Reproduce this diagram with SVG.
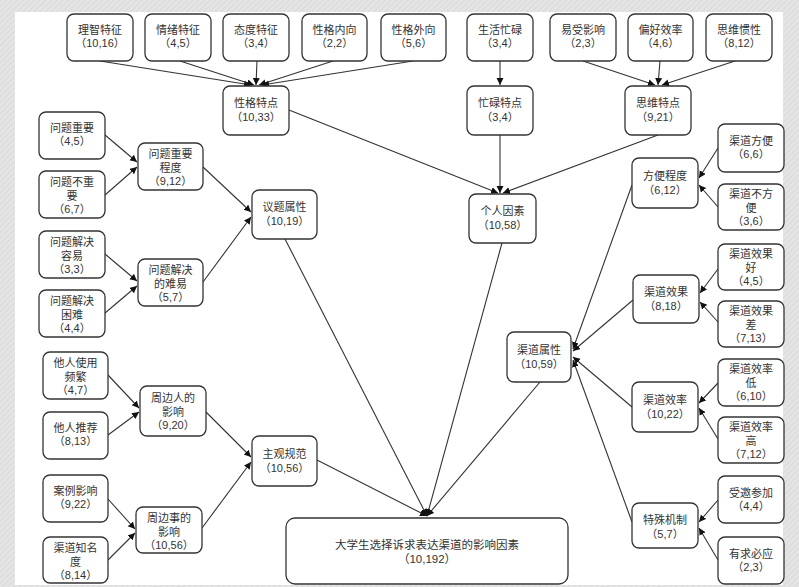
<svg xmlns="http://www.w3.org/2000/svg" width="799" height="587" viewBox="0 0 799 587">
<defs>
<pattern id="hatch" width="4" height="4" patternUnits="userSpaceOnUse" patternTransform="rotate(45)">
<rect width="4" height="4" fill="#e4e4e4"/>
<line x1="0" y1="0" x2="0" y2="4" stroke="#d6d6d6" stroke-width="1.5"/>
</pattern>
<marker id="arr" markerWidth="8" markerHeight="8" refX="7" refY="3.5" orient="auto" markerUnits="userSpaceOnUse">
<path d="M0,0 L7,3.5 L0,7 z" fill="#111"/>
</marker>
</defs>
<style>
.n rect{fill:#fff;stroke:#333;stroke-width:1.3}
.n text{font-family:"Liberation Sans","Noto Sans CJK SC",sans-serif;font-size:11px;fill:#333;text-anchor:middle}
#edges line{stroke:#333;stroke-width:1.1;marker-end:url(#arr)}
</style>
<rect width="799" height="587" fill="url(#hatch)"/>
<rect x="15" y="12" width="768" height="573" fill="#fff"/>

<g id="edges">
<line x1="100" y1="61" x2="251" y2="85"/>
<line x1="180" y1="61" x2="254" y2="85"/>
<line x1="257" y1="61" x2="256" y2="85"/>
<line x1="333" y1="61" x2="259" y2="85"/>
<line x1="413" y1="61" x2="262" y2="85"/>
<line x1="500" y1="61" x2="500" y2="85"/>
<line x1="583" y1="61" x2="655" y2="85"/>
<line x1="660" y1="61" x2="658" y2="85"/>
<line x1="735" y1="61" x2="662" y2="85"/>
<line x1="289" y1="110" x2="498" y2="193"/>
<line x1="500" y1="135" x2="500" y2="193"/>
<line x1="658" y1="135" x2="503" y2="193"/>
<line x1="105" y1="135" x2="137" y2="162"/>
<line x1="105" y1="195" x2="137" y2="167"/>
<line x1="105" y1="254" x2="137" y2="281"/>
<line x1="105" y1="313" x2="137" y2="286"/>
<line x1="203" y1="167" x2="251" y2="212"/>
<line x1="203" y1="282" x2="251" y2="217"/>
<line x1="108" y1="375" x2="139" y2="408"/>
<line x1="108" y1="435" x2="139" y2="412"/>
<line x1="206" y1="412" x2="251" y2="457"/>
<line x1="202" y1="528" x2="251" y2="462"/>
<line x1="108" y1="499" x2="135" y2="529"/>
<line x1="108" y1="560" x2="135" y2="533"/>
<line x1="285" y1="239" x2="427" y2="516"/>
<line x1="317" y1="460" x2="427" y2="516"/>
<line x1="502" y1="243" x2="427" y2="516"/>
<line x1="540" y1="382" x2="427" y2="516"/>
<line x1="718" y1="148" x2="699" y2="178"/>
<line x1="718" y1="207" x2="699" y2="185"/>
<line x1="718" y1="269" x2="700" y2="293"/>
<line x1="718" y1="322" x2="700" y2="302"/>
<line x1="718" y1="383" x2="699" y2="403"/>
<line x1="718" y1="439" x2="699" y2="408"/>
<line x1="718" y1="500" x2="699" y2="522"/>
<line x1="718" y1="560" x2="699" y2="528"/>
<line x1="632" y1="185" x2="573" y2="349"/>
<line x1="633" y1="300" x2="573" y2="351"/>
<line x1="632" y1="407" x2="573" y2="357"/>
<line x1="632" y1="522" x2="573" y2="360"/>
</g>

<g id="n1" class="n"><rect x="67" y="14" width="66" height="47" rx="7"/><text x="100" y="34">理智特征</text><text x="100" y="47">（10,16）</text></g>
<g id="n2" class="n"><rect x="145" y="14" width="66" height="47" rx="7"/><text x="178" y="34">情绪特征</text><text x="178" y="47">（4,5）</text></g>
<g id="n3" class="n"><rect x="223" y="14" width="66" height="47" rx="7"/><text x="256" y="34">态度特征</text><text x="256" y="47">（3,4）</text></g>
<g id="n4" class="n"><rect x="302" y="14" width="65" height="47" rx="7"/><text x="334.5" y="34">性格内向</text><text x="334.5" y="47">（2,2）</text></g>
<g id="n5" class="n"><rect x="381" y="14" width="65" height="47" rx="7"/><text x="413.5" y="34">性格外向</text><text x="413.5" y="47">（5,6）</text></g>
<g id="n6" class="n"><rect x="467" y="14" width="66" height="47" rx="7"/><text x="500" y="34">生活忙碌</text><text x="500" y="47">（3,4）</text></g>
<g id="n7" class="n"><rect x="550" y="14" width="66" height="47" rx="7"/><text x="583" y="34">易受影响</text><text x="583" y="47">（2,3）</text></g>
<g id="n8" class="n"><rect x="628" y="14" width="65" height="47" rx="7"/><text x="660.5" y="34">偏好效率</text><text x="660.5" y="47">（4,6）</text></g>
<g id="n9" class="n"><rect x="706" y="14" width="66" height="47" rx="7"/><text x="739" y="34">思维惯性</text><text x="739" y="47">（8,12）</text></g>

<g id="n10" class="n"><rect x="223" y="86" width="66" height="49" rx="7"/><text x="256" y="107">性格特点</text><text x="256" y="121">（10,33）</text></g>
<g id="n11" class="n"><rect x="467" y="86" width="66" height="49" rx="7"/><text x="500" y="107">忙碌特点</text><text x="500" y="121">（3,4）</text></g>
<g id="n12" class="n"><rect x="625" y="86" width="66" height="49" rx="7"/><text x="658" y="107">思维特点</text><text x="658" y="121">（9,21）</text></g>

<g id="n13" class="n"><rect x="39" y="112" width="66" height="47" rx="7"/><text x="72" y="132">问题重要</text><text x="72" y="145">（4,5）</text></g>
<g id="n14" class="n"><rect x="39" y="171" width="66" height="47" rx="7"/><text x="72" y="186">问题不重</text><text x="72" y="199.5">要</text><text x="72" y="213">（6,7）</text></g>
<g id="n15" class="n"><rect x="39" y="231" width="66" height="47" rx="7"/><text x="72" y="246">问题解决</text><text x="72" y="259.5">容易</text><text x="72" y="273">（3,3）</text></g>
<g id="n16" class="n"><rect x="39" y="290" width="66" height="47" rx="7"/><text x="72" y="305">问题解决</text><text x="72" y="318.5">困难</text><text x="72" y="332">（4,4）</text></g>
<g id="n17" class="n"><rect x="138" y="143" width="65" height="47" rx="7"/><text x="170.5" y="158">问题重要</text><text x="170.5" y="171.5">程度</text><text x="170.5" y="185">（9,12）</text></g>
<g id="n18" class="n"><rect x="138" y="259" width="65" height="47" rx="7"/><text x="170.5" y="274">问题解决</text><text x="170.5" y="287.5">的难易</text><text x="170.5" y="301">（5,7）</text></g>
<g id="n19" class="n"><rect x="252" y="190" width="65" height="49" rx="7"/><text x="284.5" y="211">议题属性</text><text x="284.5" y="225">（10,19）</text></g>

<g id="n20" class="n"><rect x="43" y="352" width="65" height="47" rx="7"/><text x="75.5" y="367">他人使用</text><text x="75.5" y="380.5">频繁</text><text x="75.5" y="394">（4,7）</text></g>
<g id="n21" class="n"><rect x="43" y="412" width="65" height="47" rx="7"/><text x="75.5" y="432">他人推荐</text><text x="75.5" y="445">（8,13）</text></g>
<g id="n22" class="n"><rect x="43" y="475" width="65" height="47" rx="7"/><text x="75.5" y="495">案例影响</text><text x="75.5" y="508">（9,22）</text></g>
<g id="n23" class="n"><rect x="43" y="537" width="65" height="46" rx="7"/><text x="75.5" y="552">渠道知名</text><text x="75.5" y="565.5">度</text><text x="75.5" y="579">（8,14）</text></g>
<g id="n24" class="n"><rect x="140" y="386" width="66" height="50" rx="7"/><text x="173" y="402">周边人的</text><text x="173" y="415.5">影响</text><text x="173" y="429">（9,20）</text></g>
<g id="n25" class="n"><rect x="136" y="507" width="66" height="46" rx="7"/><text x="169" y="522">周边事的</text><text x="169" y="535.5">影响</text><text x="169" y="549">（10,56）</text></g>
<g id="n26" class="n"><rect x="252" y="436" width="65" height="50" rx="7"/><text x="284.5" y="458">主观规范</text><text x="284.5" y="472">（10,56）</text></g>

<g id="n27" class="n"><rect x="469" y="194" width="67" height="49" rx="7"/><text x="502.5" y="215">个人因素</text><text x="502.5" y="229">（10,58）</text></g>
<g id="n28" class="n"><rect x="507" y="332" width="64" height="50" rx="7"/><text x="539" y="354">渠道属性</text><text x="539" y="368">（10,59）</text></g>
<g id="n29" class="n"><rect x="286" y="518" width="282" height="66" rx="9"/><text x="427" y="549" style="font-size:11.5px">大学生选择诉求表达渠道的影响因素</text><text x="427" y="563" style="font-size:11.5px">（10,192）</text></g>

<g id="n30" class="n"><rect x="718" y="124" width="66" height="48" rx="7"/><text x="751" y="145">渠道方便</text><text x="751" y="158">（6,6）</text></g>
<g id="n31" class="n"><rect x="718" y="184" width="66" height="46" rx="7"/><text x="751" y="198">渠道不方</text><text x="751" y="211.5">便</text><text x="751" y="225">（3,6）</text></g>
<g id="n32" class="n"><rect x="632" y="158" width="66" height="50" rx="7"/><text x="665" y="180">方便程度</text><text x="665" y="194">（6,12）</text></g>
<g id="n33" class="n"><rect x="718" y="244" width="66" height="46" rx="7"/><text x="751" y="258">渠道效果</text><text x="751" y="271.5">好</text><text x="751" y="285">（4,5）</text></g>
<g id="n34" class="n"><rect x="718" y="301" width="66" height="46" rx="7"/><text x="751" y="315">渠道效果</text><text x="751" y="328.5">差</text><text x="751" y="342">（7,13）</text></g>
<g id="n35" class="n"><rect x="633" y="275" width="66" height="48" rx="7"/><text x="666" y="296">渠道效果</text><text x="666" y="310">（8,18）</text></g>
<g id="n36" class="n"><rect x="718" y="359" width="66" height="47" rx="7"/><text x="751" y="373">渠道效率</text><text x="751" y="386.5">低</text><text x="751" y="400">（6,10）</text></g>
<g id="n37" class="n"><rect x="718" y="417" width="66" height="46" rx="7"/><text x="751" y="431">渠道效率</text><text x="751" y="444.5">高</text><text x="751" y="458">（7,12）</text></g>
<g id="n38" class="n"><rect x="632" y="382" width="66" height="50" rx="7"/><text x="665" y="404">渠道效率</text><text x="665" y="418">（10,22）</text></g>
<g id="n39" class="n"><rect x="718" y="476" width="66" height="47" rx="7"/><text x="751" y="497">受邀参加</text><text x="751" y="510">（4,4）</text></g>
<g id="n40" class="n"><rect x="718" y="537" width="66" height="47" rx="7"/><text x="751" y="558">有求必应</text><text x="751" y="571">（2,3）</text></g>
<g id="n41" class="n"><rect x="632" y="503" width="66" height="45" rx="7"/><text x="665" y="524">特殊机制</text><text x="665" y="538">（5,7）</text></g>
</svg>
